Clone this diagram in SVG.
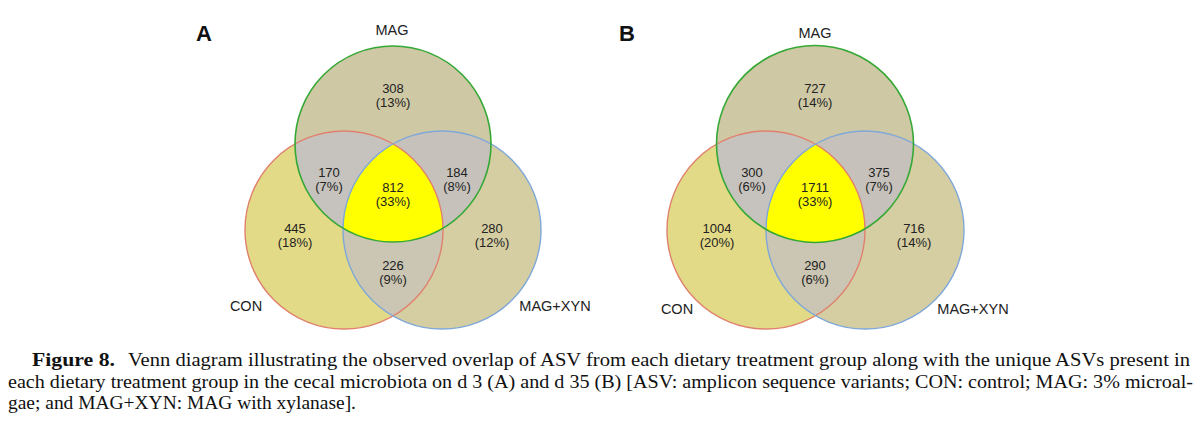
<svg xmlns="http://www.w3.org/2000/svg" width="1200" height="425" viewBox="0 0 1200 425">
<style>
.lab{font-family:"Liberation Sans",Arial,sans-serif;font-size:14.5px;fill:#222;text-anchor:middle}
.num{font-family:"Liberation Sans",Arial,sans-serif;font-size:13px;fill:#222;text-anchor:middle}
.pan{font-family:"Liberation Sans",Arial,sans-serif;font-size:22px;font-weight:bold;fill:#111;text-anchor:middle}
.cap{font-family:"Liberation Serif","Times New Roman",serif;font-size:19px;fill:#111}
.fm{fill:#cfc8a4}.fc{fill:#e2da86}.fx{fill:#d5cea3}.g1{fill:#c6c2bd}.g2{fill:#c6c2bb}.g3{fill:#cbc6b3}.yc{fill:#ffff00}
.sm{fill:none;stroke:#35a835;stroke-width:1.6}.sc{fill:none;stroke:#e0806e;stroke-width:1.4}.sx{fill:none;stroke:#7fa8d8;stroke-width:1.4}
</style>
<defs>
<clipPath id="aM"><circle cx="393" cy="144" r="98"/></clipPath>
<clipPath id="aC"><circle cx="344" cy="230" r="99"/></clipPath>
<clipPath id="bM"><circle cx="815" cy="144" r="98.5"/></clipPath>
<clipPath id="bC"><circle cx="766" cy="230" r="99"/></clipPath>
</defs>
<rect width="1200" height="425" fill="#fff"/>
<g id="venn-A">
<circle class="fm" cx="393" cy="144" r="98"/>
<circle class="fc" cx="344" cy="230" r="99"/>
<circle class="fx" cx="442" cy="230" r="99"/>
<circle class="g1" cx="344" cy="230" r="99" clip-path="url(#aM)"/>
<circle class="g2" cx="442" cy="230" r="99" clip-path="url(#aM)"/>
<circle class="g3" cx="442" cy="230" r="99" clip-path="url(#aC)"/>
<g clip-path="url(#aM)"><circle class="yc" cx="442" cy="230" r="99" clip-path="url(#aC)"/></g>
<circle class="sc" cx="344" cy="230" r="99"/>
<circle class="sx" cx="442" cy="230" r="99"/>
<circle class="sm" cx="393" cy="144" r="98"/>
</g>
<g id="venn-B">
<circle class="fm" cx="815" cy="144" r="98.5"/>
<circle class="fc" cx="766" cy="230" r="99"/>
<circle class="fx" cx="865" cy="230" r="99"/>
<circle class="g1" cx="766" cy="230" r="99" clip-path="url(#bM)"/>
<circle class="g2" cx="865" cy="230" r="99" clip-path="url(#bM)"/>
<circle class="g3" cx="865" cy="230" r="99" clip-path="url(#bC)"/>
<g clip-path="url(#bM)"><circle class="yc" cx="865" cy="230" r="99" clip-path="url(#bC)"/></g>
<circle class="sc" cx="766" cy="230" r="99"/>
<circle class="sx" cx="865" cy="230" r="99"/>
<circle class="sm" cx="815" cy="144" r="98.5"/>
</g>
<g id="labels-A">
<text class="pan" x="204" y="41">A</text>
<text class="lab" x="392" y="35">MAG</text>
<text class="lab" x="246" y="311">CON</text>
<text class="lab" x="555" y="311">MAG+XYN</text>
<text class="num" x="393" y="93">308</text><text class="num" x="393" y="107">(13%)</text>
<text class="num" x="329" y="177">170</text><text class="num" x="329" y="191">(7%)</text>
<text class="num" x="393" y="192">812</text><text class="num" x="393" y="206">(33%)</text>
<text class="num" x="457" y="177">184</text><text class="num" x="457" y="191">(8%)</text>
<text class="num" x="295" y="233">445</text><text class="num" x="295" y="247">(18%)</text>
<text class="num" x="492" y="233">280</text><text class="num" x="492" y="247">(12%)</text>
<text class="num" x="393" y="270">226</text><text class="num" x="393" y="284">(9%)</text>
</g>
<g id="labels-B">
<text class="pan" x="627" y="41">B</text>
<text class="lab" x="815" y="38">MAG</text>
<text class="lab" x="677" y="314">CON</text>
<text class="lab" x="973" y="314">MAG+XYN</text>
<text class="num" x="815" y="93">727</text><text class="num" x="815" y="107">(14%)</text>
<text class="num" x="752" y="177">300</text><text class="num" x="752" y="191">(6%)</text>
<text class="num" x="815" y="192">1711</text><text class="num" x="815" y="206">(33%)</text>
<text class="num" x="879" y="177">375</text><text class="num" x="879" y="191">(7%)</text>
<text class="num" x="717" y="233">1004</text><text class="num" x="717" y="247">(20%)</text>
<text class="num" x="914" y="233">716</text><text class="num" x="914" y="247">(14%)</text>
<text class="num" x="815" y="270">290</text><text class="num" x="815" y="284">(6%)</text>
</g>
<g id="caption">
<text class="cap" x="32" y="366" font-weight="bold" textLength="83" lengthAdjust="spacingAndGlyphs">Figure 8.</text>
<text class="cap" x="128" y="366" textLength="1062" lengthAdjust="spacingAndGlyphs">Venn diagram illustrating the observed overlap of ASV from each dietary treatment group along with the unique ASVs present in</text>
<text class="cap" x="8" y="388" textLength="1185" lengthAdjust="spacingAndGlyphs">each dietary treatment group in the cecal microbiota on d 3 (A) and d 35 (B) [ASV: amplicon sequence variants; CON: control; MAG: 3% microal-</text>
<text class="cap" x="8" y="409" textLength="348" lengthAdjust="spacingAndGlyphs">gae; and MAG+XYN: MAG with xylanase].</text>
</g>
</svg>
